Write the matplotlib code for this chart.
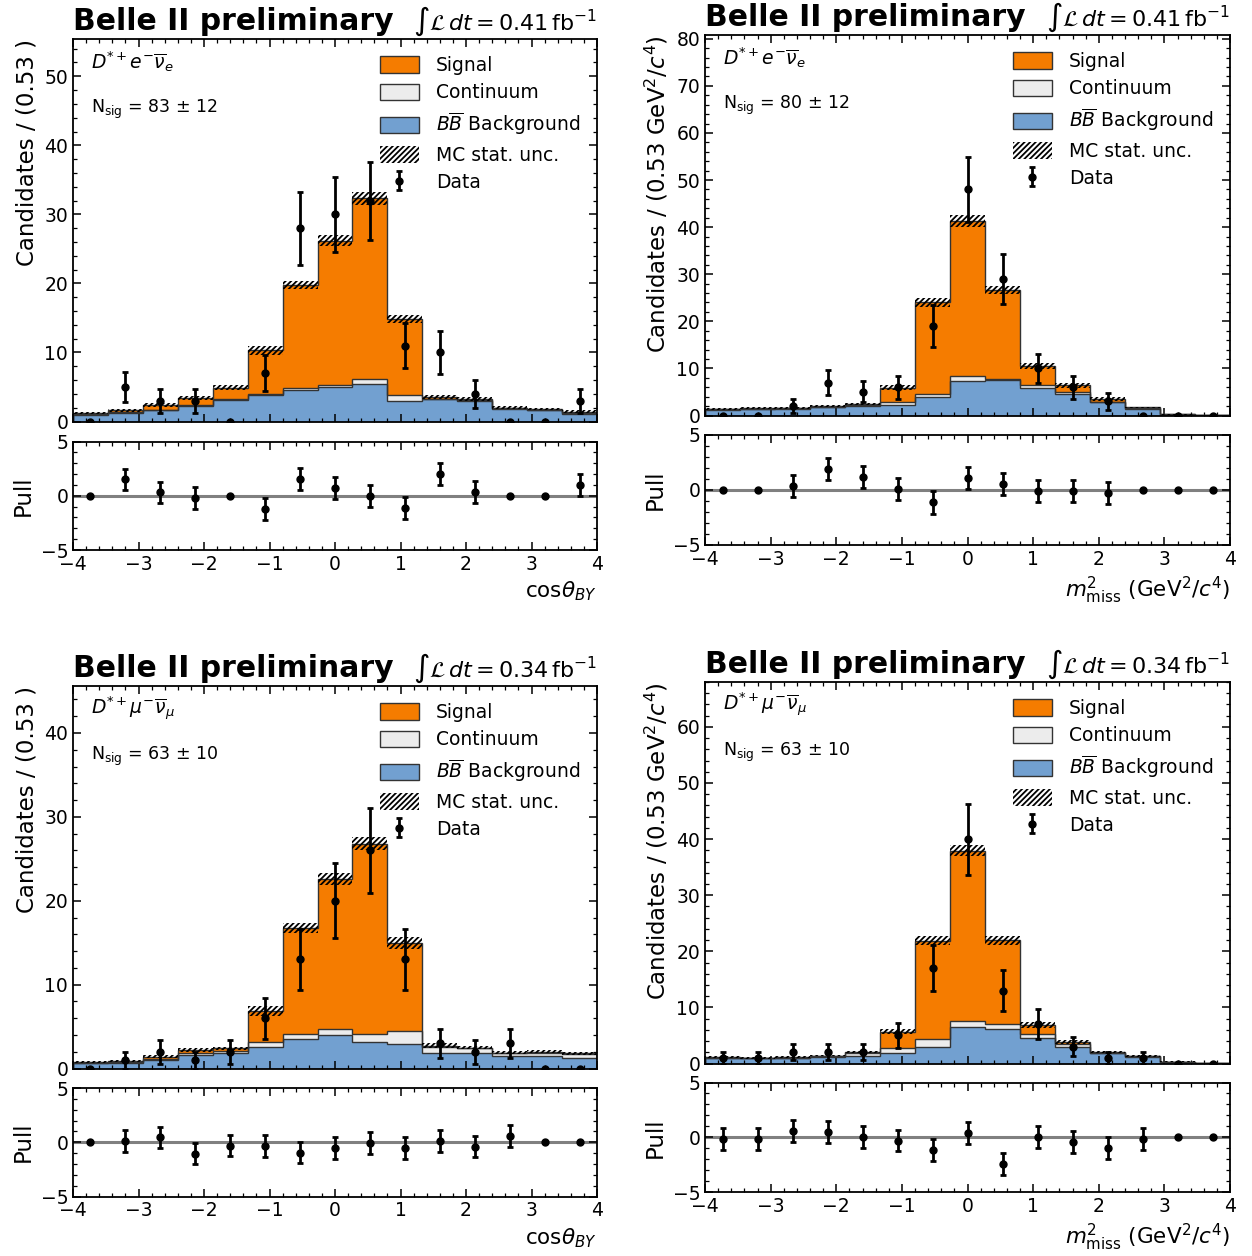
import numpy as np
import matplotlib
matplotlib.use("Agg")
import matplotlib.pyplot as plt
from matplotlib.patches import Patch
from matplotlib.ticker import MultipleLocator, AutoMinorLocator

plt.rcParams['font.family'] = ['DejaVu Sans']
plt.rcParams['axes.linewidth'] = 1.3
plt.rcParams['hatch.linewidth'] = 1.3

# bin edges (15 bins from -4 to 4)
edges = np.linspace(-4, 4, 16)
centers = 0.5 * (edges[1:] + edges[:-1])

# --- D*+ e nu, cos theta_BY ---
bb_1 = [1.0, 1.3, 1.6, 2.3, 3.1, 3.9, 4.5, 5.0, 5.4, 3.0, 3.2, 2.9, 1.8, 1.6, 1.1]
cont_1 = [1.1, 1.4, 1.7, 2.4, 3.3, 4.0, 4.8, 5.3, 6.1, 3.8, 3.3, 3.1, 1.9, 1.7, 1.3]
tot_1 = [1.2, 1.6, 2.4, 3.4, 4.9, 10.3, 19.8, 26.2, 32.3, 14.8, 3.5, 3.3, 2.0, 1.8, 1.4]
unc_1 = [0.15, 0.2, 0.25, 0.3, 0.4, 0.6, 0.6, 0.8, 1.0, 0.6, 0.3, 0.3, 0.2, 0.2, 0.2]
data_1 = [0, 5, 3, 3, 0, 7, 28, 30, 32, 11, 10, 4, 0, 0, 3]
pull_1 = [0, 1.5, 0.3, -0.2, 0, -1.25, 1.55, 0.7, 0, -1.1, 2.0, 0.35, 0, 0, 1.0]

# --- D*+ e nu, m2miss ---
bb_2 = [1.2, 1.3, 1.4, 1.7, 2.1, 2.3, 4.0, 7.3, 7.5, 5.8, 4.6, 2.8, 1.4, 0.2, 0.05]
cont_2 = [1.3, 1.4, 1.5, 1.8, 2.3, 2.8, 4.6, 8.3, 7.8, 6.4, 5.0, 2.9, 1.5, 0.25, 0.07]
tot_2 = [1.4, 1.5, 1.6, 2.0, 2.4, 5.9, 24.0, 41.3, 26.7, 10.5, 6.4, 3.5, 1.7, 0.3, 0.1]
unc_2 = [0.2, 0.2, 0.2, 0.2, 0.2, 0.5, 0.9, 1.2, 0.9, 0.6, 0.5, 0.4, 0.2, 0.1, 0.05]
data_2 = [0, 0, 2, 7, 5, 6, 19, 48, 29, 10, 6, 3, 0, 0, 0]
pull_2 = [0, 0, 0.3, 1.9, 1.15, 0.05, -1.15, 1.05, 0.5, -0.1, -0.1, -0.3, 0, 0, 0]

# --- D*+ mu nu, cos theta_BY ---
bb_3 = [0.6, 0.7, 1.0, 1.6, 1.8, 2.6, 3.5, 4.0, 3.2, 2.9, 1.9, 1.9, 1.5, 1.5, 1.2]
cont_3 = [0.7, 0.8, 1.1, 1.9, 2.1, 3.1, 4.1, 4.7, 4.1, 4.5, 2.6, 2.4, 1.8, 1.9, 1.7]
tot_3 = [0.8, 0.9, 1.4, 2.2, 2.4, 6.9, 16.7, 22.6, 26.8, 15.0, 2.7, 2.5, 1.9, 2.0, 1.8]
unc_3 = [0.1, 0.1, 0.2, 0.2, 0.2, 0.6, 0.6, 0.7, 0.8, 0.7, 0.3, 0.2, 0.2, 0.2, 0.2]
data_3 = [0, 1, 2, 1, 2, 6, 13, 20, 26, 13, 3, 2, 3, 0, 0]
pull_3 = [0, 0.1, 0.45, -1.05, -0.3, -0.35, -0.95, -0.55, -0.05, -0.5, 0.1, -0.4, 0.6, 0, 0]

# --- D*+ mu nu, m2miss ---
bb_4 = [0.9, 0.9, 1.0, 1.2, 1.4, 1.9, 2.9, 6.5, 6.1, 4.5, 3.0, 1.8, 1.2, 0.2, 0.03]
cont_4 = [1.0, 0.95, 1.05, 1.3, 1.8, 2.7, 4.4, 7.5, 7.1, 5.3, 3.4, 1.9, 1.25, 0.25, 0.04]
tot_4 = [1.1, 1.0, 1.1, 1.4, 2.1, 5.7, 21.9, 37.9, 22.0, 6.9, 3.8, 2.0, 1.3, 0.3, 0.05]
unc_4 = [0.15, 0.15, 0.15, 0.15, 0.2, 0.5, 0.8, 1.0, 0.8, 0.5, 0.3, 0.2, 0.15, 0.1, 0.03]
data_4 = [1, 1, 2, 2, 2, 5, 17, 40, 13, 7, 3, 1, 1, 0, 0]
pull_4 = [-0.15, -0.15, 0.6, 0.45, 0, -0.3, -1.15, 0.4, -2.45, 0.05, -0.45, -1.0, -0.2, 0, 0]

c_sig = '#f57c00'
c_cont = '#ececec'
c_bb = '#72a0d0'
c_edge = '#333333'

W, H = 1252, 1256
fig = plt.figure(figsize=(W / 100, H / 100), dpi=100)


def px_axes(left, top, right, bottom):
    return fig.add_axes([left / W, 1 - bottom / H, (right - left) / W, (bottom - top) / H])


def style(ax):
    ax.tick_params(which='both', direction='in', top=True, right=True, labelsize=13.5)
    ax.tick_params(which='major', length=6, width=1.1)
    ax.tick_params(which='minor', length=3, width=0.9)
    ax.xaxis.set_major_locator(MultipleLocator(1))
    ax.xaxis.set_minor_locator(AutoMinorLocator())
    ax.yaxis.set_minor_locator(AutoMinorLocator())


def panel(box, bb, cont, tot, unc, data, pull, ymax, lumi, decay, nsig, ylab, xlab):
    left, top, right, bottom, ptop, pbottom = box
    ax = px_axes(left, top, right, bottom)
    axp = px_axes(left, ptop, right, pbottom)
    bb, cont, tot, unc, data = map(np.array, (bb, cont, tot, unc, data))

    ax.stairs(bb, edges, baseline=0, fill=True, color=c_bb, zorder=1)
    ax.stairs(cont, edges, baseline=bb, fill=True, color=c_cont, zorder=1)
    ax.stairs(tot, edges, baseline=cont, fill=True, color=c_sig, zorder=1)
    for v in (bb, cont, tot):
        ax.stairs(v, edges, color=c_edge, lw=1.0, zorder=2)
    ax.stairs(tot + unc, edges, baseline=tot - unc, fill=True, facecolor='none',
              edgecolor='k', hatch='//////', lw=0, zorder=3)
    err = np.sqrt(data)
    eb = ax.errorbar(centers, data, yerr=err, fmt='o', color='k', ms=5,
                     elinewidth=2, capsize=2.5, capthick=2, zorder=4)

    ax.set_xlim(-4, 4)
    ax.set_ylim(0, ymax)
    ax.yaxis.set_major_locator(MultipleLocator(10))
    style(ax)
    ax.tick_params(labelbottom=False)
    ax.set_ylabel(ylab, fontsize=16.5, loc='top')

    handles = [Patch(facecolor=c_sig, edgecolor=c_edge, lw=1.0),
               Patch(facecolor=c_cont, edgecolor=c_edge, lw=1.0),
               Patch(facecolor=c_bb, edgecolor=c_edge, lw=1.0),
               Patch(facecolor='none', edgecolor='k', hatch='//////', lw=0),
               eb]
    labels = ['Signal', 'Continuum', r'$B\overline{B}$ Background', 'MC stat. unc.', 'Data']
    ax.legend(handles, labels, loc='upper right', frameon=False, fontsize=13.5,
              handlelength=2.1, handleheight=1.0, labelspacing=0.45,
              borderaxespad=0.5, handletextpad=0.9)

    ax.text(0.035, 0.94, decay, transform=ax.transAxes, fontsize=13.5, va='center')
    ax.text(0.035, 0.815, r'N$_{\mathrm{sig}}$ = ' + nsig, transform=ax.transAxes,
            fontsize=12.5, va='center')
    ax.text(0.0, 1.024, 'Belle II preliminary', transform=ax.transAxes, fontsize=21.5,
            fontweight='bold', ha='left', va='baseline')
    ax.text(1.0, 1.024, r'$\int\mathcal{L}\,dt = %s\,\mathrm{fb}^{-1}$' % lumi,
            transform=ax.transAxes, fontsize=16, ha='right', va='baseline')

    pull = np.array(pull)
    perr = np.where(data > 0, 1.0, 0.0)
    axp.axhline(0, color='#808080', lw=2.2, zorder=0)
    axp.errorbar(centers, pull, yerr=perr, fmt='o', color='k', ms=5,
                 elinewidth=2, capsize=2.5, capthick=2, zorder=3)
    axp.set_xlim(-4, 4)
    axp.set_ylim(-5, 5)
    axp.yaxis.set_major_locator(MultipleLocator(5))
    style(axp)
    axp.set_ylabel('Pull', fontsize=16.5)
    axp.set_xlabel(xlab, fontsize=15.5, loc='right')


ylab_cos = 'Candidates / (0.53 )'
ylab_m2 = r'Candidates / (0.53 GeV$^2$/$c^4$)'
xlab_cos = r'cos$\theta_{BY}$'
xlab_m2 = r'$m_{\mathrm{miss}}^2$ (GeV$^2$/$c^4$)'
dec_e = r'$D^{*+}e^{-}\overline{\nu}_e$'
dec_mu = r'$D^{*+}\mu^{-}\overline{\nu}_\mu$'

panel((73, 39, 597, 421.5, 441.5, 550), bb_1, cont_1, tot_1, unc_1, data_1, pull_1,
      55.4, '0.41', dec_e, r'83 $\pm$ 12', ylab_cos, xlab_cos)
panel((705, 35, 1230, 415.5, 434.5, 545), bb_2, cont_2, tot_2, unc_2, data_2, pull_2,
      80.8, '0.41', dec_e, r'80 $\pm$ 12', ylab_m2, xlab_m2)
panel((73, 686, 597, 1068.5, 1088, 1196.5), bb_3, cont_3, tot_3, unc_3, data_3, pull_3,
      45.6, '0.34', dec_mu, r'63 $\pm$ 10', ylab_cos, xlab_cos)
panel((705, 682, 1230, 1063.5, 1082.5, 1192), bb_4, cont_4, tot_4, unc_4, data_4, pull_4,
      68.0, '0.34', dec_mu, r'63 $\pm$ 10', ylab_m2, xlab_m2)

fig.savefig('out.png', dpi=100)
